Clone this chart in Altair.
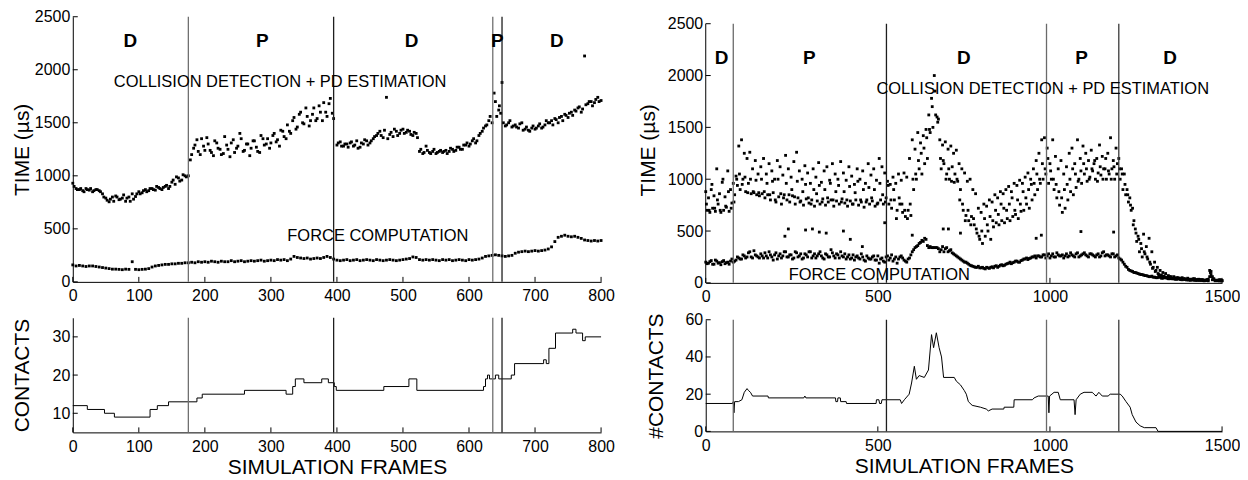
import altair as alt
import pandas as pd

FONT = "Liberation Sans"

# ---------------- LEFT EXPERIMENT (0..800 frames) ----------------
left_frames = list(range(0, 801, 5))
left_collision = [
    930, 880, 870, 860, 880, 865, 850, 870, 860, 830,
    790, 755, 800, 810, 775, 790, 760, 800, 830, 805,
    850, 840, 870, 860, 880, 865, 890, 870, 900, 880,
    940, 920, 980, 960, 1000, 1000, 1200, 1290, 1230, 1350,
    1240, 1300, 1220, 1330, 1260, 1200, 1370, 1250, 1310, 1220,
    1280, 1350, 1240, 1300, 1260, 1330, 1230, 1380, 1290, 1350,
    1310, 1400, 1340, 1430, 1370, 1480, 1400, 1550, 1460, 1600,
    1490, 1560, 1520, 1640, 1540, 1600, 1690, 1560, 1730, 1540,
    1290, 1320, 1280, 1300, 1310, 1280, 1330, 1270, 1300, 1330,
    1310, 1350, 1380, 1420, 1360, 1740, 1390, 1370, 1420, 1400,
    1440, 1410, 1420, 1380, 1400, 1230, 1210, 1280, 1220, 1230,
    1210, 1230, 1220, 1240, 1230, 1250, 1240, 1270, 1250, 1290,
    1280, 1330, 1310, 1380, 1420, 1470, 1520, 1500, 1700, 1620,
    1880, 1470, 1500, 1460, 1480, 1450, 1500, 1440, 1430, 1450,
    1440, 1470, 1450, 1480, 1500, 1520, 1540, 1500, 1560, 1580,
    1550, 1600, 1620, 1640, 1600, 2130, 1680, 1700, 1690, 1740,
    1710,
]
left_force = [
    160, 150, 155, 150, 145, 150, 150, 145, 140, 135,
    130, 125, 120, 120, 118, 115, 120, 118, 190, 118,
    115, 118, 120, 125, 140, 150, 155, 160, 165, 165,
    170, 170, 175, 175, 180, 180, 185, 180, 190, 185,
    190, 185, 195, 190, 185, 195, 190, 190, 200, 190,
    195, 200, 190, 195, 200, 195, 200, 205, 195, 200,
    205, 200, 210, 205, 210, 200, 215, 240, 230, 225,
    220, 225, 215, 220, 225, 220, 230, 240, 230, 215,
    205, 200, 205, 210, 200, 205, 210, 200, 205, 210,
    205, 200, 210, 205, 200, 205, 210, 205, 200, 205,
    210, 215, 220, 235, 230, 210, 205, 210, 205, 210,
    205, 200, 210, 205, 210, 200, 205, 210, 205, 200,
    210, 205, 210, 215, 225, 240, 245, 250, 255, 250,
    245, 240, 245, 250, 270, 280, 285, 290, 285, 290,
    295, 290, 295, 300, 310, 330, 380, 420, 430, 440,
    430, 425, 430, 420, 410, 395, 390, 385, 390, 385,
    390,
]
# second sample of the collision cloud, P phases
left_extra_frames = list(range(178, 394, 5)) + [638, 642, 646, 648]
left_extra_values = [
    1150, 1260, 1340, 1200, 1280, 1360, 1240, 1190, 1310, 1250,
    1210, 1290, 1180, 1340, 1260, 1400, 1230, 1300, 1190, 1330,
    1270, 1220, 1350, 1300, 1260, 1380, 1320, 1280, 1420, 1350,
    1420, 1520, 1440, 1580, 1500, 1640, 1470, 1580, 1520, 1660,
    1520, 1600, 1680, 1590,
    1780, 1560, 1660, 1590,
]
# second sample of the collision cloud, D phases
left_extra_d_frames = (list(range(2, 173, 5)) + list(range(402, 633, 5))
                       + list(range(652, 798, 5)))
left_extra_d_values = [
    900, 870, 880, 850, 870, 880, 860, 870, 850, 800,
    770, 780, 760, 800, 780, 820, 790, 760, 780, 830,
    830, 860, 850, 880, 870, 900, 880, 890, 910, 900,
    960, 990, 950, 1010, 990,
    1310, 1280, 1300, 1270, 1320, 1290, 1260, 1310, 1340, 1290,
    1330, 1370, 1400, 1380, 1430, 1350, 1410, 1440, 1380, 1430,
    1400, 1430, 1390, 1410, 1360, 1250, 1220, 1240, 1210, 1250,
    1220, 1240, 1230, 1210, 1260, 1230, 1270, 1250, 1290, 1310,
    1300, 1350, 1330, 1400, 1450, 1480, 1560,
    1500, 1480, 1520, 1470, 1460, 1490, 1430, 1460, 1420, 1470,
    1450, 1490, 1460, 1520, 1500, 1480, 1530, 1550, 1520, 1570,
    1590, 1570, 1610, 1650, 1630, 1670, 1700, 1660, 1720, 1700,
]
left_contact_frames = [0, 22, 48, 63, 117, 128, 145, 188, 196, 260,
                       323, 333, 337, 350, 377, 387, 396, 399, 471, 509,
                       521, 622, 625, 628, 631, 640, 645, 664, 669, 713,
                       717, 721, 731, 757, 762, 772, 776, 800]
left_contact_values = [12, 11, 10, 9, 11, 12, 13, 14, 15, 16,
                       15, 17, 19, 18, 19, 18, 17, 16, 17, 19,
                       16, 17, 19, 20, 19, 20, 19, 20, 23, 24,
                       23, 27, 31, 32, 31, 29, 30, 30]
left_phase_lines = [175, 395, 636, 650]
left_line_colors = ["#707070", "#1e1e1e", "#707070", "#1e1e1e"]
left_phase_x = [87, 287, 513, 643, 733]
left_phase_text = ["D", "P", "D", "P", "D"]
left_phase_y = 2275
left_notes_x = [314, 462]
left_notes_y = [1880, 428]
notes_text = ["COLLISION DETECTION + PD ESTIMATION", "FORCE COMPUTATION"]
left_xticks = [0, 100, 200, 300, 400, 500, 600, 700, 800]
time_yticks = [0, 500, 1000, 1500, 2000, 2500]
left_contact_yticks = [10, 20, 30]

# ---------------- RIGHT EXPERIMENT (0..1500 frames) ----------------
right_frames_a = list(range(0, 1497, 8))
right_frames_b = list(range(4, 1501, 8))
right_frames_c = list(range(2, 1499, 8))
right_collision_a = [
    880, 820, 900, 840, 1100, 860, 970, 830, 1080, 900,
    960, 1030, 1320, 1380, 1250, 1200, 1260, 1100, 1180, 1050,
    1120, 1200, 1050, 1150, 1080, 1000, 1180, 1120, 1040, 1230,
    1100, 1020, 1170, 1260, 1080, 1000, 1130, 1060, 960, 1100,
    1020, 1160, 970, 1080, 1120, 990, 1150, 1050, 1000, 1170,
    1060, 990, 1120, 1030, 950, 1100, 1000, 1080, 960, 1150,
    1040, 1100, 990, 1200, 1120, 1060, 980, 950, 1020, 960,
    1050, 990, 1060, 1020, 1200, 1380, 1290, 1450, 1350, 1420,
    1480, 1620, 1780, 2000, 1600, 1380, 1330, 1360, 1290, 1320,
    1250, 1280, 1150, 1100, 1060, 980, 1000, 900, 860, 720,
    680, 760, 740, 800, 780, 850, 820, 880, 860, 900,
    930, 880, 960, 940, 990, 960, 1020, 1060, 1000, 1100,
    1180, 1250, 1380, 1400, 1300, 1150, 1380, 1220, 1100, 1180,
    1050, 1120, 1250, 1300, 1150, 1380, 1200, 1320, 1250, 1180,
    1280, 1150, 1200, 1330, 1220, 1100, 1250, 1400, 1180, 1300,
    1200, 1100, 1050, 900, 820, 720, 520, 450, 380, 470,
    350, 430, 300, 200, 150, 120, 100, 90, 70, 60,
    60, 50, 45, 50, 40, 45, 35, 40, 30, 35,
    30, 25, 30, 120, 60, 25, 20, 30,
]
right_collision_b = [
    700, 680, 720, 690, 760, 680, 700, 730, 690, 770,
    850, 940, 900, 1000, 880, 960, 860, 870, 850, 840,
    860, 820, 850, 800, 870, 780, 830, 760, 850, 800,
    780, 840, 760, 820, 790, 750, 810, 770, 800, 740,
    790, 760, 810, 750, 780, 800, 740, 790, 760, 810,
    770, 740, 790, 760, 800, 750, 780, 730, 800, 760,
    790, 740, 770, 800, 760, 820, 760, 720, 800, 700,
    760, 680, 640, 700, 650, 900, 1000, 1100, 1050, 1150,
    1200, 1450, 1500, 1620, 1580, 1100, 1150, 1050, 1000, 1120,
    1050, 980, 900, 700, 650, 600, 640, 560, 480, 420,
    380, 450, 500, 420, 540, 580, 560, 600, 580, 620,
    600, 640, 660, 620, 690, 700, 760, 720, 800, 850,
    900, 960, 1000, 1050, 960, 1000, 900, 820, 750, 680,
    720, 800, 880, 850, 920, 1000, 960, 1050, 980, 1020,
    1080, 1000, 1060, 1040, 1100, 1000, 1050, 1100, 1000, 1150,
    1000, 900, 850, 780, 700, 600, 400, 300, 250, 280,
    230, 180, 150, 120, 80, 70, 60, 50, 60, 40,
    40, 50, 35, 40, 30, 35, 30, 40, 25, 30,
    30, 25, 35, 80, 40, 25, 30, 20,
]
right_collision_c = [
    760, 700, 950, 720, 800, 700, 1000, 740, 880, 720,
    780, 1000, 1050, 950, 1020, 870, 1000, 880, 990, 870,
    1000, 880, 960, 850, 980, 800, 1000, 860, 820, 960,
    850, 900, 830, 980, 780, 880, 950, 820, 760, 900,
    860, 940, 780, 900, 820, 960, 800, 880, 940, 780,
    880, 800, 930, 760, 870, 980, 800, 900, 780, 920,
    820, 900, 760, 960, 850, 780, 940, 800, 900, 620,
    820, 760, 700, 620, 760, 1000, 1050, 1180, 1250, 1300,
    1400, 1480, 1700, 1850, 1550, 1200, 1180, 1000, 1100, 980,
    970, 1000, 800, 760, 600, 700, 560, 620, 520, 450,
    500, 620, 560, 640, 600, 700, 660, 760, 720, 700,
    760, 820, 700, 800, 760, 880, 820, 900, 950, 960,
    1050, 1000, 1150, 1100, 1200, 1080, 1000, 950, 880, 820,
    900, 950, 1000, 1100, 1050, 980, 1080, 1150, 1100, 1000,
    1100, 1180, 980, 1120, 1000, 1200, 1080, 1000, 1120, 1050,
    1100, 1050, 950, 850, 750, 560, 480, 420, 330, 300,
    250, 200, 140, 110, 90, 75, 65, 55, 50, 45,
    45, 40, 38, 35, 33, 30, 32, 28, 30, 25,
    28, 24, 30, 100, 35, 22, 25, 20,
]
right_force = [
    200, 190, 215, 180, 210, 195, 205, 185, 200, 210,
    200, 220, 240, 230, 260, 250, 300, 240, 270, 250,
    280, 240, 260, 300, 250, 270, 230, 280, 260, 300,
    250, 270, 240, 290, 260, 230, 280, 250, 300, 260,
    240, 280, 260, 230, 270, 250, 290, 240, 270, 300,
    250, 230, 270, 240, 220, 260, 230, 250, 210, 240,
    230, 260, 220, 190, 240, 200, 260, 240, 210, 250,
    230, 260, 220, 200, 240, 300, 340, 360, 390, 400,
    420, 340, 340, 340, 340, 300, 350, 330, 300, 320,
    280, 260, 240, 220, 200, 190, 170, 160, 150, 160,
    145, 140, 150, 140, 155, 160, 150, 170, 165, 180,
    190, 185, 200, 210, 200, 220, 230, 225, 240, 250,
    240, 260, 250, 270, 260, 240, 280, 250, 270, 260,
    240, 280, 260, 270, 250, 290, 260, 280, 270, 250,
    280, 260, 270, 250, 290, 260, 270, 250, 280, 260,
    240, 220, 180, 150, 120, 110, 100, 90, 80, 75,
    70, 60, 65, 55, 50, 55, 45, 50, 40, 45,
    40, 35, 40, 30, 35, 30, 25, 30, 25, 30,
    25, 20, 25, 60, 30, 20, 25, 20,
]
right_force_b = [
    185, 205, 180, 220, 190, 175, 215, 195, 180, 230,
    210, 250, 230, 270, 240, 290, 250, 310, 260, 240,
    260, 290, 240, 270, 220, 290, 260, 240, 300, 250,
    270, 230, 300, 250, 280, 240, 270, 300, 240, 280,
    260, 300, 240, 280, 250, 320, 260, 280, 240, 260,
    280, 250, 230, 270, 250, 240, 280, 220, 260, 230,
    250, 220, 260, 230, 210, 250, 220, 270, 230, 190,
    250, 240, 210, 230, 270, 320, 350, 380, 410, 430,
    360, 350, 340, 340, 330, 320, 300, 340, 310, 290,
    270, 250, 230, 210, 200, 180, 165, 155, 150, 145,
    150, 135, 145, 150, 145, 165, 160, 175, 170, 185,
    200, 195, 210, 200, 215, 230, 240, 235, 250, 260,
    260, 250, 270, 240, 280, 260, 250, 290, 260, 270,
    260, 250, 290, 260, 280, 250, 270, 290, 260, 280,
    270, 250, 280, 260, 300, 270, 260, 280, 250, 270,
    230, 200, 160, 130, 115, 100, 95, 85, 80, 70,
    65, 60, 55, 50, 55, 45, 50, 45, 40, 40,
    35, 38, 32, 35, 30, 28, 30, 26, 28, 25,
    22, 25, 20, 110, 35, 22, 20, 22,
]
right_outlier_frames = [230, 240, 290, 310, 330, 350, 400, 420, 455, 520,
                        600, 690, 705, 740, 960, 975, 1090, 1185]
right_outlier_values = [450, 520, 510, 520, 490, 480, 500, 420, 350, 580,
                        460, 520, 520, 480, 430, 460, 495, 490]
right_contact_frames = [0, 78, 80, 82, 84, 95, 105, 112, 120, 124,
                        130, 136, 181, 182, 285, 288, 291, 377, 378, 383,
                        384, 391, 392, 408, 409, 495, 496, 503, 505, 510,
                        512, 565, 569, 577, 591, 598, 606, 612, 620, 635,
                        647, 656, 662, 670, 678, 685, 691, 722, 728, 740,
                        751, 757, 763, 774, 798, 815, 821, 832, 866, 867,
                        895, 896, 949, 954, 966, 995, 997, 999, 1012, 1024,
                        1030, 1070, 1073, 1076, 1088, 1099, 1123, 1128, 1134, 1142,
                        1152, 1169, 1175, 1204, 1210, 1221, 1233, 1239, 1250, 1262,
                        1274, 1308, 1314, 1500]
right_contact_values = [15, 15, 16, 10, 16, 16, 17, 21, 23, 22,
                        21, 19, 19, 18, 18, 19, 18, 18, 16, 16,
                        18, 18, 16, 16, 15, 15, 17, 17, 15, 15,
                        17, 17, 15, 17, 20, 26, 35, 28, 30, 29,
                        33, 52, 45, 53, 45, 40, 29, 29, 27, 25,
                        22, 20, 16, 14, 13, 12, 11, 12, 12, 13,
                        13, 17, 17, 18, 19, 19, 10, 19, 21, 21,
                        17, 17, 9, 17, 20, 21, 21, 20, 19, 21,
                        19, 19, 20, 20, 19, 16, 13, 9, 5, 3,
                        2, 2, 0, 0]
right_phase_lines = [80, 525, 990, 1200]
right_line_colors = ["#6a6a6a", "#1e1e1e", "#6a6a6a", "#3a3a3a"]
right_phase_x = [46, 301, 750, 1092, 1349]
right_phase_text = ["D", "P", "D", "P", "D"]
right_phase_y = 2173
right_notes_x = [979, 504]
right_notes_y = [1868, 80]
right_xticks = [0, 500, 1000, 1500]
right_contact_yticks = [0, 20, 40, 60]


def panel(w, h, xdom, ydom, ytop, xticks, yticks, xtitle, ytitle, title_x,
          points=None, line=None, interp="linear", vlines=None, vcolors=None,
          phases=None, notes=None, manual_yline=False):
    xaxis_kw = dict(values=xticks, labelFlush=False, labelOverlap=False,
                    labelPadding=6, format="d")
    xscale = alt.Scale(domain=xdom, nice=False, zero=False)
    if xtitle:
        X = alt.X("x:Q", scale=xscale,
                  axis=alt.Axis(title=xtitle, titlePadding=2, **xaxis_kw))
    else:
        X = alt.X("x:Q", scale=xscale, axis=alt.Axis(title=None, **xaxis_kw))
    Y = alt.Y("y:Q", scale=alt.Scale(domain=ydom, nice=False, zero=False),
              axis=alt.Axis(values=yticks, title=ytitle, labelPadding=3,
                            labelFlush=False, format="d", domain=not manual_yline,
                            titleX=title_x, titleY=h / 2, titleAngle=-90,
                            titleAlign="center", titleBaseline="middle"))
    layers = []
    if points is not None:
        layers.append(alt.Chart(points).mark_square(size=8, color="black", opacity=1)
                      .encode(x=X, y=Y))
    if line is not None:
        layers.append(alt.Chart(line).mark_line(color="black", strokeWidth=1,
                                                interpolate=interp)
                      .encode(x=X, y=Y))
    if vlines is not None:
        vdf = pd.DataFrame({"x": vlines, "c": vcolors,
                            "y": [ydom[0]] * len(vlines), "y2": [ytop] * len(vlines)})
        layers.append(alt.Chart(vdf).mark_rule(strokeWidth=1.3)
                      .encode(x=X, y=Y, y2=alt.Y2("y2:Q"),
                              color=alt.Color("c:N", scale=None)))
    if manual_yline:
        adf = pd.DataFrame({"y": [ydom[0]], "y2": [ytop]})
        layers.append(alt.Chart(adf).mark_rule(color="black", strokeWidth=1)
                      .encode(x=alt.value(0), y=Y, y2=alt.Y2("y2:Q")))
    xt = pd.DataFrame({"x": xticks})
    layers.append(alt.Chart(xt).mark_rule(color="black", strokeWidth=1)
                  .encode(x=X, y=alt.value(h), y2=alt.value(h - 5)))
    yt = pd.DataFrame({"y": yticks})
    layers.append(alt.Chart(yt).mark_rule(color="black", strokeWidth=1)
                  .encode(y=Y, x=alt.value(0), x2=alt.value(5)))
    if phases is not None:
        layers.append(alt.Chart(phases).mark_text(font=FONT, fontSize=19,
                                                  fontWeight="bold", color="black",
                                                  baseline="middle", align="center")
                      .encode(x=X, y=Y, text="t:N"))
    if notes is not None:
        layers.append(alt.Chart(notes).mark_text(font=FONT, fontSize=16.5,
                                                 color="black", baseline="middle",
                                                 align="center")
                      .encode(x=X, y=Y, text="t:N"))
    return alt.layer(*layers).properties(width=w, height=h)


# data frames
lt_points = pd.concat([
    pd.DataFrame({"x": left_frames, "y": left_collision}),
    pd.DataFrame({"x": left_extra_frames, "y": left_extra_values}),
    pd.DataFrame({"x": left_extra_d_frames, "y": left_extra_d_values}),
    pd.DataFrame({"x": left_frames, "y": left_force}),
])
lb_line = pd.DataFrame({"x": left_contact_frames, "y": left_contact_values})
lt_phases = pd.DataFrame({"x": left_phase_x, "y": [left_phase_y] * 5, "t": left_phase_text})
lt_notes = pd.DataFrame({"x": left_notes_x, "y": left_notes_y, "t": notes_text})

rt_points = pd.concat([
    pd.DataFrame({"x": right_frames_a, "y": right_collision_a}),
    pd.DataFrame({"x": right_frames_b, "y": right_collision_b}),
    pd.DataFrame({"x": right_frames_c, "y": right_collision_c}),
    pd.DataFrame({"x": right_frames_a, "y": right_force}),
    pd.DataFrame({"x": right_frames_b, "y": right_force_b}),
    pd.DataFrame({"x": right_outlier_frames, "y": right_outlier_values}),
])
rb_line = pd.DataFrame({"x": right_contact_frames, "y": right_contact_values})
rt_phases = pd.DataFrame({"x": right_phase_x, "y": [right_phase_y] * 5, "t": right_phase_text})
rt_notes = pd.DataFrame({"x": right_notes_x, "y": right_notes_y, "t": notes_text})

LT = panel(530, 266, [0, 800], [0, 2500], 2500, left_xticks, time_yticks, None,
           "TIME (µs)", -50,
           points=lt_points, vlines=left_phase_lines, vcolors=left_line_colors,
           phases=lt_phases, notes=lt_notes)
LB = panel(530, 115, [0, 800], [5, 35], 35, left_xticks, left_contact_yticks,
           "SIMULATION FRAMES", "CONTACTS", -50,
           line=lb_line, interp="step-after", vlines=left_phase_lines,
           vcolors=left_line_colors)
RT = panel(518, 267, [0, 1500], [0, 2567.3], 2500, right_xticks, time_yticks, None,
           "TIME (µs)", -57,
           points=rt_points, vlines=right_phase_lines, vcolors=right_line_colors,
           phases=rt_phases, notes=rt_notes, manual_yline=True)
RB = panel(518, 112, [0, 1500], [0, 60], 60, right_xticks, right_contact_yticks,
           "SIMULATION FRAMES", "#CONTACTS", -49,
           line=rb_line, vlines=right_phase_lines, vcolors=right_line_colors)

chart = alt.hconcat(
    alt.vconcat(LT, LB, spacing=13),
    alt.vconcat(RT, RB, spacing=7),
    spacing=23,
).properties(
    padding={"left": 3, "top": 0, "right": 0, "bottom": 0}
).configure_view(stroke=None).configure_axis(
    domainColor="black", domainWidth=1, labelColor="black", titleColor="black",
    labelFont=FONT, titleFont=FONT, grid=False, ticks=False, tickSize=0,
    labelFontSize=16, titleFontSize=21, titleFontWeight="normal",
)

chart.save("out.html", embed_options={"renderer": "svg", "actions": False})
